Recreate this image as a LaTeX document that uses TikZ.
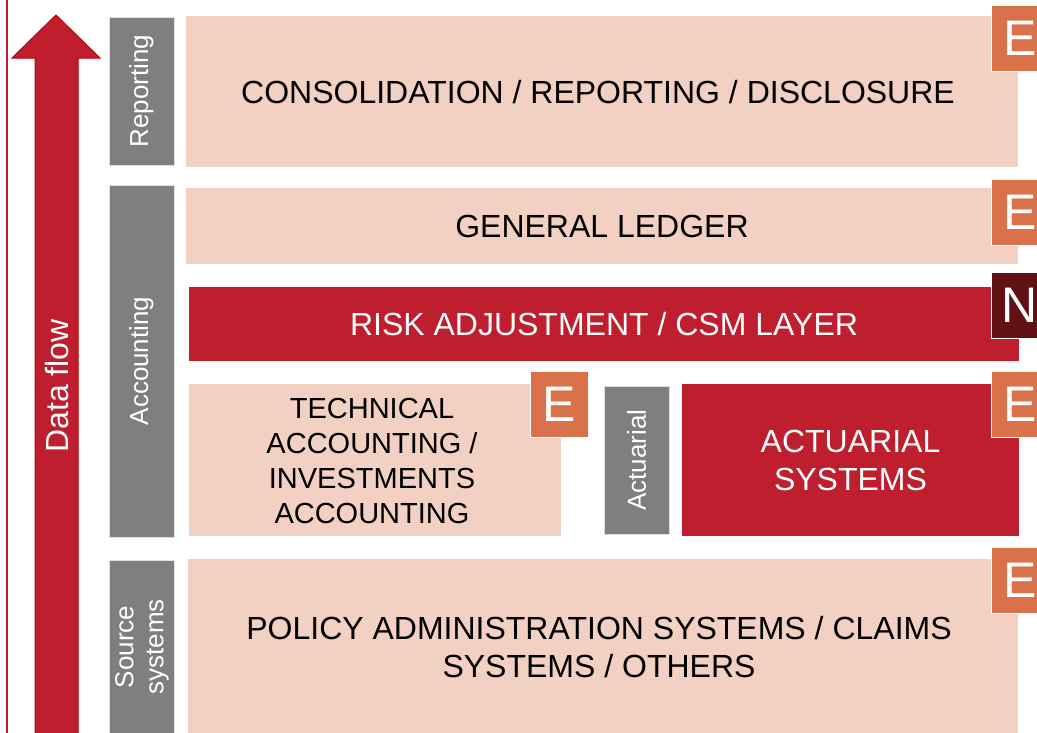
\documentclass[tikz,border=0pt]{standalone}
\usepackage{fontspec}
\setmainfont{Liberation Sans}
\definecolor{peach}{RGB}{242,209,194}
\definecolor{ifrsred}{RGB}{190,30,45}
\definecolor{arrowline}{RGB}{192,0,0}
\definecolor{labgray}{RGB}{127,127,127}
\definecolor{badgeorange}{RGB}{217,114,74}
\definecolor{badgedark}{RGB}{97,16,19}
\tikzset{
  layer/.style={fill=peach, draw=none, inner sep=0pt, align=center, text=black, font=\fontsize{32}{38}\selectfont},
  redlayer/.style={fill=ifrsred, draw=none, inner sep=0pt, align=center, text=white, font=\fontsize{32}{38}\selectfont},
  graylabel/.style={fill=labgray, draw=black!12, line width=0.8pt, inner sep=0pt, text=white, align=center, font=\fontsize{26}{30}\selectfont},
  badge/.style={draw=white, line width=1pt, minimum width=58pt, minimum height=66pt, inner sep=0pt, text=white, font=\fontsize{50}{50}\selectfont},
  ebadge/.style={badge, fill=badgeorange},
  nbadge/.style={badge, fill=badgedark},
}
\begin{document}
\begin{tikzpicture}[x=1pt,y=-1pt]
\clip (0,0) rectangle (1037,732);
\fill[white] (0,0) rectangle (1037,732);
% left line
\draw[ifrsred, line width=2.2pt] (7,-5) -- (7,740);
% big arrow
\draw[fill=ifrsred, draw=arrowline, line width=1pt, line join=miter]
  (35,745) -- (35,58) -- (12,58) -- (56,15) -- (100,58) -- (78,58) -- (78,745);
\node[rotate=90, text=white, font=\fontsize{32}{38}\selectfont] (flow) at (57,386) {Data flow};
% gray labels
\node[graylabel, minimum width=65pt, minimum height=148pt] (lrep) at (141.5,91) {};
\node[rotate=90, text=white, font=\fontsize{26}{30}\selectfont] (trep) at (lrep.center) {Reporting};
\node[graylabel, minimum width=65pt, minimum height=352pt] (lacc) at (141.5,361) {};
\node[rotate=90, text=white, font=\fontsize{26}{30}\selectfont] (tacc) at (lacc.center) {Accounting};
\node[graylabel, minimum width=65pt, minimum height=185pt] (lsrc) at (141.5,652.5) {};
\node[rotate=90, text=white, align=center, font=\fontsize{26}{30}\selectfont] (tsrc) at (142,647) {Source\\systems};
\node[graylabel, minimum width=65pt, minimum height=148pt] (lact) at (636.5,460) {};
\node[rotate=90, text=white, font=\fontsize{26}{30}\selectfont] (tact) at (lact.center) {Actuarial};
% layers
\node[layer, minimum width=832pt, minimum height=151pt] (rep) at (602,91.5) {};
\node[font=\fontsize{32}{38}\selectfont, inner sep=0pt] (rept) at (598,92) {CONSOLIDATION / REPORTING / DISCLOSURE};
\node[layer, minimum width=832pt, minimum height=76pt] (gl) at (602,226) {GENERAL LEDGER};
\node[redlayer, minimum width=830pt, minimum height=74pt] (ra) at (604,324) {RISK ADJUSTMENT / CSM LAYER};
\node[layer, minimum width=372pt, minimum height=152pt] (tech) at (375,460) {};
\node[font=\fontsize{29}{35}\selectfont, align=center, inner sep=0pt] (techt) at (372,461) {TECHNICAL\\ACCOUNTING /\\INVESTMENTS\\ACCOUNTING};
\node[redlayer, minimum width=337pt, minimum height=152pt] (act) at (850.5,460) {ACTUARIAL\\SYSTEMS};
\node[layer, minimum width=830pt, minimum height=185pt] (pol) at (603,651.5) {};
\node[font=\fontsize{32}{38}\selectfont, align=center, inner sep=0pt] (polt) at (599,647) {POLICY ADMINISTRATION SYSTEMS / CLAIMS\\SYSTEMS / OTHERS};
% badges
\node[ebadge] (e1) at (1020,38.5) {E};
\node[ebadge] (e2) at (1020,212) {E};
\node[nbadge] (n1) at (1020,305) {N};
\node[ebadge] (e3) at (1020,404) {E};
\node[ebadge] (e4) at (559.5,404) {E};
\node[ebadge] (e5) at (1020,580.5) {E};
\end{tikzpicture}
\end{document}
